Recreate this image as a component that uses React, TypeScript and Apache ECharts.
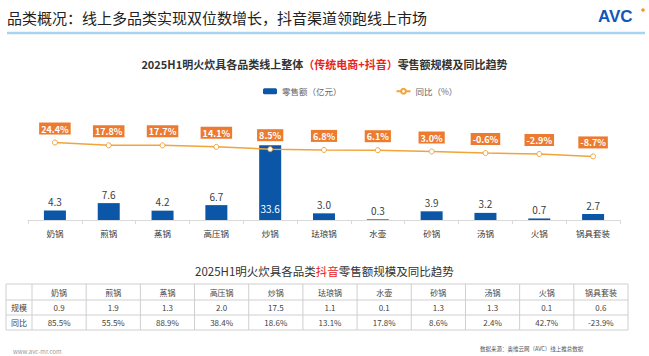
import React, { useEffect, useRef } from "react";
import * as echarts from "echarts";

const categories = ["奶锅", "煎锅", "蒸锅", "高压锅", "炒锅", "珐琅锅", "水壶", "砂锅", "汤锅", "火锅", "锅具套装"];
const salesValues = [4.3, 7.6, 4.2, 6.7, 33.6, 3.0, 0.3, 3.9, 3.2, 0.7, 2.7];
const yoyValues = [24.4, 17.8, 17.7, 14.1, 8.5, 6.8, 6.1, 3.0, -0.6, -2.9, -8.7];
const douyinScale = [0.9, 1.9, 1.3, 2.0, 17.5, 1.1, 0.1, 1.3, 1.3, 0.1, 0.6];
const douyinYoy = [85.5, 55.5, 88.9, 38.4, 18.6, 13.1, 17.8, 8.6, 2.4, 42.7, -23.9];
const tableRowNames = ["规模", "同比"];

const FONT = '"Noto Sans CJK SC", "Noto Sans", sans-serif';

function txt(text: string, x: number, y: number, size: number, fill: string, align = "center", weight = "normal", extra: any = {}) {
  return {
    type: "text",
    silent: true,
    style: {
      text,
      x,
      y,
      fill,
      font: `${weight} ${size}px ${FONT}`,
      textAlign: align,
      align,
      textVerticalAlign: "middle",
      verticalAlign: "middle",
      ...extra,
    },
  };
}

function hline(x1: number, y1: number, x2: number, y2: number, stroke: string, lineWidth = 1) {
  return {
    type: "line",
    silent: true,
    shape: { x1, y1, x2, y2 },
    style: { stroke, lineWidth },
  };
}

function buildTable() {
  const els: any[] = [];
  const left = 6;
  const firstW = 26;
  const colStart = left + firstW;
  const right = 628;
  const colW = (right - colStart) / categories.length;
  const rows = [284, 300, 315, 330];
  const stroke = "#CFCFCF";
  rows.forEach((y) => els.push(hline(left, y, right, y, stroke)));
  els.push(hline(left, rows[0], left, rows[3], stroke));
  for (let i = 0; i <= categories.length; i++) {
    const x = colStart + i * colW;
    els.push(hline(x, rows[0], x, rows[3], stroke));
  }
  const color = "#444";
  const fs = 8;
  categories.forEach((c, i) => {
    const cx = colStart + (i + 0.5) * colW;
    els.push(txt(c, cx, (rows[0] + rows[1]) / 2, fs, color));
    els.push(txt(douyinScale[i].toFixed(1), cx, (rows[1] + rows[2]) / 2, fs, color));
    els.push(txt(douyinYoy[i].toFixed(1) + "%", cx, (rows[2] + rows[3]) / 2, fs, color));
  });
  els.push(txt(tableRowNames[0], left + firstW / 2, (rows[1] + rows[2]) / 2, fs, color));
  els.push(txt(tableRowNames[1], left + firstW / 2, (rows[2] + rows[3]) / 2, fs, color));
  return els;
}

export default function App() {
  const ref = useRef<HTMLDivElement>(null);
  useEffect(() => {
    if (!ref.current) return;
    const chart = echarts.init(ref.current, null, { renderer: "svg" });
    const barColor = "#0B56A6";
    const lineColor = "#F2A33A";
    const option: any = {
      animation: false,
      backgroundColor: "#fff",
      textStyle: { fontFamily: FONT },
      title: [
        {
          text: "{a|2025H1明火炊具各品类线上整体}{r|（传统电商+抖音）}{a|零售额规模及同比趋势}",
          left: "center",
          top: 53,
          textStyle: {
            rich: {
              a: { fontSize: 11, fontWeight: "bold", color: "#333", fontFamily: FONT },
              r: { fontSize: 11, fontWeight: "bold", color: "#E8241C", fontFamily: FONT },
            },
          },
        },
        {
          text: "{a|2025H1明火炊具各品类}{r|抖音}{a|零售额规模及同比趋势}",
          left: 190,
          top: 260,
          textStyle: {
            fontWeight: "normal",
            rich: {
              a: { fontSize: 11.5, fontWeight: "normal", color: "#333", fontFamily: FONT },
              r: { fontSize: 11.5, fontWeight: "normal", color: "#E8241C", fontFamily: FONT },
            },
          },
        },
      ],
      legend: {
        left: 258,
        top: 82,
        itemWidth: 14,
        itemHeight: 6,
        itemGap: 54,
        textStyle: { fontSize: 8.5, color: "#666", fontFamily: FONT },
        data: ["零售额（亿元）", "同比（%）"],
      },
      grid: { left: 28, right: 29, top: 120, bottom: 136 },
      xAxis: {
        type: "category",
        data: categories,
        axisLine: { lineStyle: { color: "#D9D9D9" } },
        axisTick: { show: true, length: 4, lineStyle: { color: "#D9D9D9" } },
        axisLabel: { fontSize: 8.5, color: "#333", margin: 9, fontFamily: FONT },
      },
      yAxis: [
        { type: "value", min: 0, max: 45, show: false, splitLine: { show: false } },
        { type: "value", min: -160, max: 78, show: false, splitLine: { show: false } },
      ],
      series: [
        {
          name: "零售额（亿元）",
          type: "bar",
          barWidth: 22,
          itemStyle: { color: barColor },
          label: {
            show: true,
            position: "top",
            distance: 4,
            fontSize: 10,
            color: "#404040",
            formatter: (p: any) => Number(p.value).toFixed(1),
          },
          data: salesValues.map((v) =>
            v > 20
              ? { value: v, label: { position: "insideBottom", distance: 7, color: "#fff" } }
              : v
          ),
        },
        {
          name: "同比（%）",
          type: "line",
          yAxisIndex: 1,
          z: 5,
          symbol: "circle",
          symbolSize: 5,
          lineStyle: { color: lineColor, width: 1.5 },
          itemStyle: { color: "#fff", borderColor: lineColor, borderWidth: 1 },
          label: {
            show: true,
            position: "top",
            distance: 5,
            backgroundColor: "#EC7B30",
            color: "#fff",
            fontWeight: "bold",
            fontSize: 9,
            padding: [2, 2, 1, 2],
            formatter: (p: any) => Number(p.value).toFixed(1) + "%",
          },
          data: yoyValues,
        },
      ],
      graphic: [
        txt("品类概况：线上多品类实现双位数增长，抖音渠道领跑线上市场", 7, 17, 15, "#222", "left"),
        hline(7, 33, 645, 33, "#A9D4EF", 2.5),
        txt("AVC", 598, 16, 17, "#1257B8", "left", "bold", { font: `bold 17px "Liberation Sans", Arial, sans-serif` }),
        { type: "circle", silent: true, shape: { cx: 643, cy: 10, r: 1.8 }, style: { fill: "#F39A1E" } },
        ...buildTable(),
        txt("www.avc-mr.com", 13, 351, 6, "#999", "left"),
        txt("数据来源：奥维云网（AVC）线上推总数据", 480, 349, 5.5, "#555", "left"),
      ],
    };
    chart.setOption(option);
    return () => chart.dispose();
  }, []);
  return <div ref={ref} style={{ position: "fixed", left: 0, top: 0, width: 649, height: 356 }} />;
}
